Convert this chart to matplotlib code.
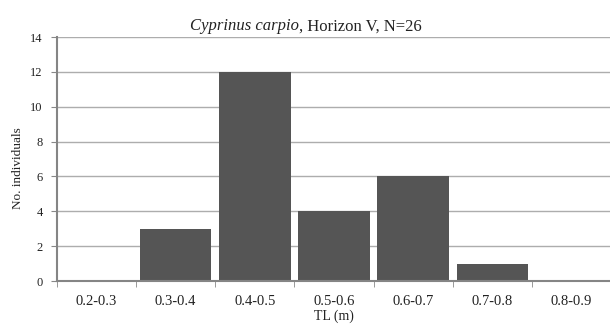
import matplotlib
matplotlib.use("Agg")
import matplotlib.pyplot as plt
import numpy as np

categories = ["0.2-0.3", "0.3-0.4", "0.4-0.5", "0.5-0.6", "0.6-0.7", "0.7-0.8", "0.8-0.9"]
counts = [0, 3, 12, 4, 6, 1, 0]
yticks = [0, 2, 4, 6, 8, 10, 12, 14]

plt.rcParams['font.family'] = ['Liberation Serif', 'DejaVu Serif']

W, H = 610, 324
fig = plt.figure(figsize=(W / 100, H / 100), dpi=100)
left_px, right_px, top_px, bot_px = 56.8, 611.2, 37, 281
ax_w = right_px - left_px
ax = fig.add_axes([left_px / W, 1 - bot_px / H, ax_w / W, (bot_px - top_px) / H])

x = np.arange(len(categories))
ax.bar(x, counts, width=0.905, color="#555555", zorder=3)

ax.set_xlim(-0.5, len(categories) - 0.5)
ax.set_ylim(0, 14)
ax.set_yticks(yticks)
ax.set_yticklabels([str(v) for v in yticks], fontsize=9, color="#222222")
ax.yaxis.grid(True, color="#adadad", linewidth=1.0, zorder=0)

ax.set_xticks(x)
ax.set_xticklabels(categories, fontsize=10.5, color="#222222")
ax.tick_params(axis='x', which='major', length=0, pad=10)
ax.set_xticks(np.arange(-0.5, len(categories) + 0.5, 1.0), minor=True)
ax.tick_params(axis='x', which='minor', length=4, color="#888888", direction='out')
ax.tick_params(axis='y', length=4, color="#888888", pad=6)

for s in ['top', 'right']:
    ax.spines[s].set_visible(False)
for s in ['left', 'bottom']:
    ax.spines[s].set_color("#858585")
    ax.spines[s].set_linewidth(1.5)
ax.spines['bottom'].set_zorder(4)

ax.set_xlabel("TL (m)", fontsize=10, color="#222222", labelpad=1)
ax.set_ylabel("No. individuals", fontsize=9.5, color="#222222", va='center')
ax.yaxis.set_label_coords((18.5 - left_px) / ax_w, 0.5 - (168 - (top_px + bot_px) / 2) / (bot_px - top_px))

split_x = 299 / W
base_y = 1 - 30.5 / H
fig.text(split_x, base_y, "Cyprinus carpio", fontsize=12, style='italic',
         ha='right', va='baseline', color="#222222")
fig.text(split_x, base_y, ", Horizon V, N=26", fontsize=12,
         ha='left', va='baseline', color="#222222")

fig.savefig("out.png", dpi=100)
